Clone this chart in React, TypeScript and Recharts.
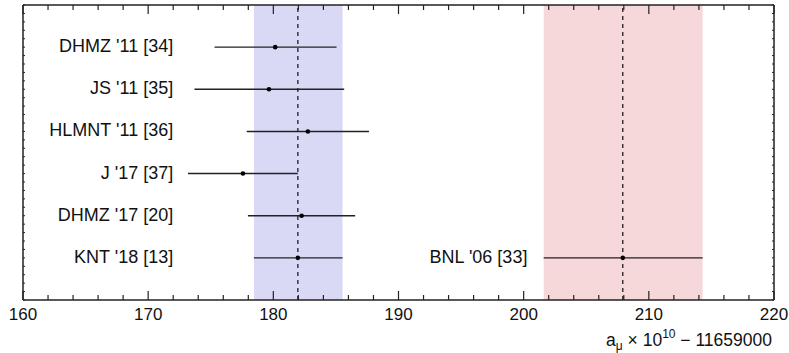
import React from 'react';
import {
  ScatterChart, Scatter, XAxis, YAxis, ReferenceArea, ReferenceLine,
} from 'recharts';

document.body.style.margin = '0';

const FONT = '"Liberation Sans", Arial, sans-serif';

// measurements, top row first
const labels = ["DHMZ '11 [34]", "JS '11 [35]", "HLMNT '11 [36]", "J '17 [37]", "DHMZ '17 [20]", "KNT '18 [13]", "BNL '06 [33]"];
const rowY = [6, 5, 4, 3, 2, 1, 1];
const central = [180.15, 179.65, 182.76, 177.57, 182.26, 181.96, 207.92];
const lower = [175.3, 173.7, 177.87, 173.18, 177.97, 178.45, 201.6];
const upper = [185.05, 185.66, 187.64, 181.96, 186.54, 185.53, 214.3];
const labelX = [172.0, 172.0, 172.0, 172.0, 172.0, 172.0, 200.3];

// bands: KNT '18 (theory) and BNL '06 (experiment)
const bandLow = [178.45, 201.6];
const bandHigh = [185.53, 214.3];
const bandCenter = [181.96, 207.92];
const bandColors = ['#d9d9f6', '#f6d7da'];

const xTicks = [160, 162, 164, 166, 168, 170, 172, 174, 176, 178, 180, 182, 184, 186, 188, 190,
  192, 194, 196, 198, 200, 202, 204, 206, 208, 210, 212, 214, 216, 218, 220];
const yTicks = Array.from({ length: 36 }, (_, i) => Math.round(i * 2) / 10);

const points = central.map((x, i) => ({ x, y: rowY[i] }));
const labelPoints = labelX.map((x, i) => ({ x, y: rowY[i], name: labels[i] }));

const AXIS = '#222';

const BottomTick = (props: any) => {
  const { x, y, payload } = props;
  const major = Math.round(payload.value) % 10 === 0;
  return (
    <g>
      <line x1={x} x2={x} y1={y} y2={y - (major ? 9 : 5)} stroke={AXIS} strokeWidth={1.2} />
      {major && (
        <text x={x} y={y + 19.5} textAnchor="middle" fontSize={17} fontFamily={FONT} fill="#111">
          {payload.value}
        </text>
      )}
    </g>
  );
};

const TopTick = (props: any) => {
  const { x, y, payload } = props;
  const major = Math.round(payload.value) % 10 === 0;
  return <line x1={x} x2={x} y1={y} y2={y + (major ? 9 : 5)} stroke={AXIS} strokeWidth={1.2} />;
};

const LeftTick = (props: any) => {
  const { x, y } = props;
  return <line x1={x} x2={x + 2} y1={y} y2={y} stroke={AXIS} strokeWidth={1} />;
};

const RightTick = (props: any) => {
  const { x, y } = props;
  return <line x1={x} x2={x - 2} y1={y} y2={y} stroke={AXIS} strokeWidth={1} />;
};

const AxisTitle = (props: any) => {
  const vb = props.viewBox || {};
  return (
    <text x={vb.x + vb.width - 2} y={vb.y + 46} textAnchor="end" fontSize={17.5} fontFamily={FONT} fill="#111">
      a
      <tspan fontSize={12} dy={4}>μ</tspan>
      <tspan fontSize={17.5} dy={-4}> × 10</tspan>
      <tspan fontSize={12} dy={-8}>10</tspan>
      <tspan fontSize={17.5} dy={8}> − 11659000</tspan>
    </text>
  );
};

const Dot = (props: any) => <circle cx={props.cx} cy={props.cy} r={2.3} fill="#000" />;

const RowLabel = (props: any) => (
  <text x={props.cx} y={props.cy + 5} textAnchor="end" fontSize={18} fontFamily={FONT} fill="#111">
    {props.payload.name}
  </text>
);

export default function App() {
  return (
    <ScatterChart width={789} height={353} margin={{ top: 4, right: 14, bottom: 23, left: 22 }}>
      <XAxis
        type="number" dataKey="x" domain={[160, 220]} ticks={xTicks} interval={0}
        height={30} tickSize={0} tickMargin={0} tick={<BottomTick />}
        axisLine={{ stroke: AXIS, strokeWidth: 1.5 }} allowDataOverflow
        label={AxisTitle}
      />
      <XAxis
        xAxisId="top" orientation="top" type="number" dataKey="x" domain={[160, 220]} ticks={xTicks}
        interval={0} height={1} tickSize={0} tickMargin={0} tick={<TopTick />}
        axisLine={{ stroke: AXIS, strokeWidth: 1.5 }} allowDataOverflow
      />
      <YAxis
        type="number" dataKey="y" domain={[0, 7]} ticks={yTicks} interval={0}
        width={1} tickSize={0} tickMargin={0} tick={<LeftTick />}
        axisLine={{ stroke: AXIS, strokeWidth: 1.5 }} allowDataOverflow
      />
      <YAxis
        yAxisId="right" orientation="right" type="number" dataKey="y" domain={[0, 7]} ticks={yTicks}
        interval={0} width={1} tickSize={0} tickMargin={0} tick={<RightTick />}
        axisLine={{ stroke: AXIS, strokeWidth: 1.5 }} allowDataOverflow
      />

      {bandLow.map((lo, i) => (
        <ReferenceArea key={`band-${i}`} x1={lo} x2={bandHigh[i]} y1={0} y2={7} fill={bandColors[i]} fillOpacity={1} stroke="none" />
      ))}
      {bandCenter.map((c, i) => (
        <ReferenceLine key={`center-${i}`} x={c} stroke="#111" strokeWidth={1.2} strokeDasharray="4 4" />
      ))}
      {lower.map((lo, i) => (
        <ReferenceLine
          key={`err-${i}`}
          segment={[{ x: lo, y: rowY[i] }, { x: upper[i], y: rowY[i] }]}
          stroke="#222" strokeWidth={1.4}
        />
      ))}

      <Scatter data={points} shape={<Dot />} isAnimationActive={false} />
      <Scatter data={labelPoints} shape={<RowLabel />} isAnimationActive={false} />
    </ScatterChart>
  );
}
